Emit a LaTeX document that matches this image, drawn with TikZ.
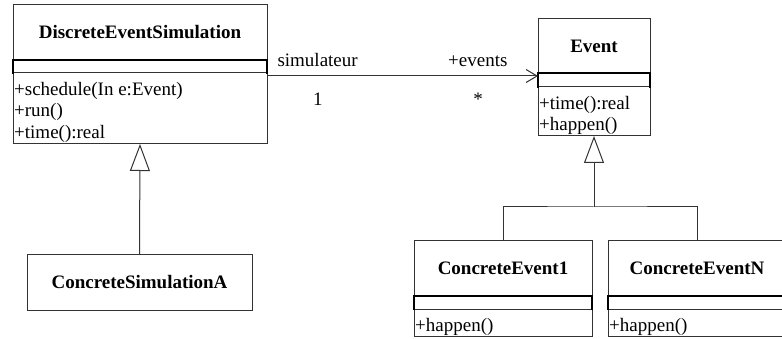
\documentclass[tikz,border=0pt]{standalone}
\usepackage{fontspec}
\setmainfont{Liberation Serif}
\usetikzlibrary{arrows.meta,positioning}

\newcommand{\umlsize}{\fontsize{19}{21.5}\selectfont}

\tikzset{
  uml/.style={draw=black!80,line width=1pt,outer sep=0pt,inner sep=0pt},
  clsname/.style={uml,font=\umlsize\bfseries,minimum height=55pt},
  clsattr/.style={outer sep=0pt,inner sep=0pt},
  attrline/.style={line width=2pt,line cap=rect},
  clsops/.style={uml},
  optext/.style={anchor=north west,align=left,inner xsep=1pt,inner ysep=7pt},
  umlline/.style={draw=black!80,line width=1pt},
  assoc/.style={umlline,-{Straight Barb[length=11pt,width=13pt]}},
  gen/.style={umlline,-{Triangle[open,length=27pt,width=20pt]}},
  lbl/.style={inner sep=0pt},
}

\begin{document}
\begin{tikzpicture}[x=1pt,y=-1pt,font=\umlsize,node distance=0pt]
\useasboundingbox (0,0) rectangle (782,339);

% simulation class
\node[clsname,minimum width=254pt,anchor=north west] (des) at (13,5) {DiscreteEventSimulation};
\node[clsattr,minimum width=254pt,minimum height=13pt,below=of des] (des-attr) {};
\node[clsops,minimum width=254pt,minimum height=71pt,below=of des-attr] (des-ops) {};
\draw[attrline] (des-attr.south west) |- (des-attr.north east) -- (des-attr.south east);
\node[optext] at (des-ops.north west) {\strut+schedule(In e:Event)\\+run()\\+time():real};

\node[clsname,minimum width=225pt,anchor=north west] (csa) at (27,255) {ConcreteSimulationA};

% event class
\node[clsname,minimum width=112pt,minimum height=54pt,anchor=north west] (ev) at (538,19) {Event};
\node[clsattr,minimum width=112pt,minimum height=14pt,below=of ev] (ev-attr) {};
\node[clsops,minimum width=112pt,minimum height=49pt,below=of ev-attr] (ev-ops) {};
\draw[attrline] (ev-attr.south west) |- (ev-attr.north east) -- (ev-attr.south east);
\node[optext] at (ev-ops.north west) {\strut+time():real\\+happen()};

% concrete events
\node[clsname,minimum width=178pt,anchor=north west] (ce1) at (414,241) {ConcreteEvent1};
\node[clsattr,minimum width=178pt,minimum height=13pt,below=of ce1] (ce1-attr) {};
\node[clsops,minimum width=178pt,minimum height=27pt,below=of ce1-attr] (ce1-ops) {};
\draw[attrline] (ce1-attr.south west) |- (ce1-attr.north east) -- (ce1-attr.south east);
\node[optext] at (ce1-ops.north west) {\strut+happen()};

\node[clsname,minimum width=178pt,anchor=north west] (cen) at (608,241) {ConcreteEventN};
\node[clsattr,minimum width=178pt,minimum height=13pt,below=of cen] (cen-attr) {};
\node[clsops,minimum width=178pt,minimum height=27pt,below=of cen-attr] (cen-ops) {};
\draw[attrline] (cen-attr.south west) |- (cen-attr.north east) -- (cen-attr.south east);
\node[optext] at (cen-ops.north west) {\strut+happen()};

% association
\draw[assoc] ([yshift=-3pt]des-ops.north east) -- ([yshift=-3pt]ev-attr.north west)
  node[lbl,pos=.037,anchor=base west,yshift=9pt] {simulateur}
  node[lbl,pos=.889,anchor=base east,yshift=9pt] {+events}
  node[lbl,pos=.188,anchor=base,yshift=-30pt] {1}
  node[lbl,pos=.779,anchor=base,yshift=-30pt] {*};

% inheritance
\draw[gen] (csa.north) -- (des-ops.south);
\coordinate (fork) at (ev-ops.south |- 0,207);
\draw[umlline] (ce1.north) |- (fork) -| (cen.north);
\draw[gen] (fork) -- (ev-ops.south);
\end{tikzpicture}
\end{document}
